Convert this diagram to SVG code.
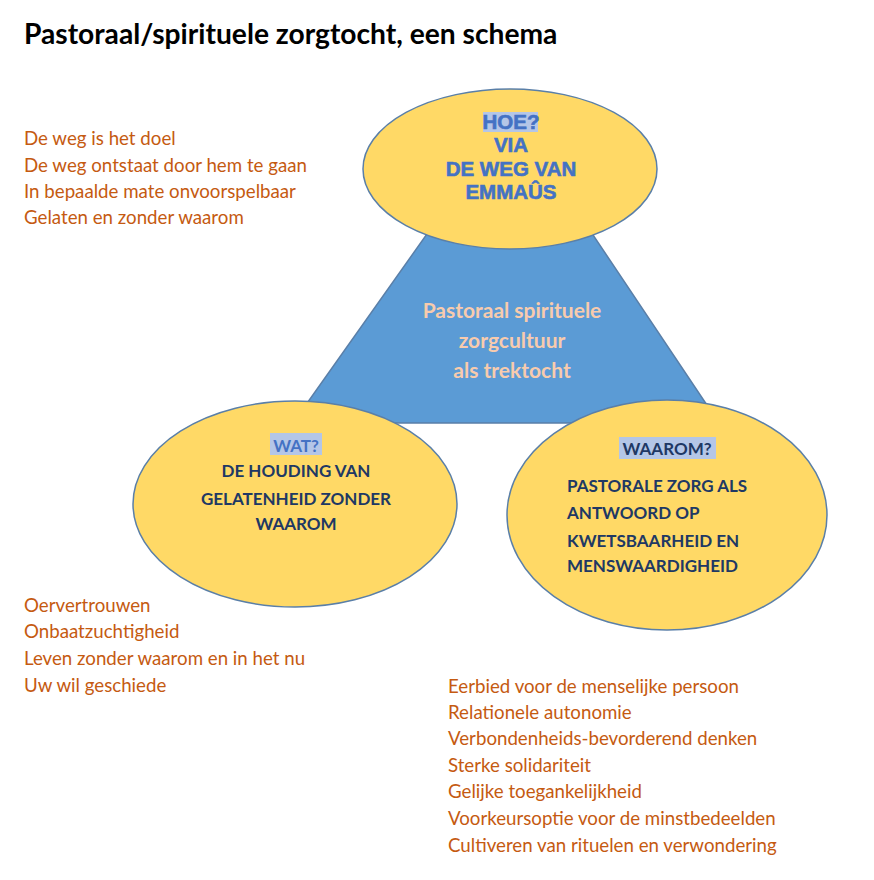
<svg xmlns="http://www.w3.org/2000/svg" width="874" height="880" viewBox="0 0 874 880">
<style>
.sh{stroke:#5A7FA8;stroke-width:1.5}
.ell{fill:#FFD966}
.orange{font-family:Lato,"Open Sans",sans-serif;font-size:18.7px;fill:#C55A11}
.hl{fill:#B4C6E7}
.top{font-family:"Liberation Sans",Arial,sans-serif;font-weight:bold;font-size:20.5px;fill:#4472C4;stroke:#4472C4;stroke-width:0.6;text-anchor:middle}
.nav{font-family:Lato,"Open Sans",sans-serif;font-weight:bold;font-size:17px;fill:#203864}
</style>
<rect width="874" height="880" fill="#FFFFFF"/>
<text x="24" y="44" font-family="Lato,'Open Sans',sans-serif" font-weight="bold" font-size="28.2" fill="#000000">Pastoraal/spirituele zorgtocht, een schema</text>

<g id="triangle">
<polygon class="sh" points="512,114 719,423 293,423" fill="#5B9BD5"/>
<g font-family="Lato,'Open Sans',sans-serif" font-weight="bold" font-size="21" fill="#F8CBAD" text-anchor="middle">
<text x="512" y="318">Pastoraal spirituele</text>
<text x="512" y="348">zorgcultuur</text>
<text x="512" y="378">als trektocht</text>
</g>
</g>

<g id="hoe">
<ellipse class="ell sh" cx="510" cy="169" rx="147" ry="80"/>
<rect class="hl" x="483" y="112" width="55" height="20"/>
<text class="top" x="511" y="129">HOE?</text>
<text class="top" x="511" y="152">VIA</text>
<text class="top" x="511" y="176">DE WEG VAN</text>
<text class="top" x="511" y="199">EMMAÛS</text>
</g>

<g id="wat">
<ellipse class="ell sh" cx="295" cy="504" rx="162" ry="103"/>
<rect class="hl" x="270" y="433" width="52" height="22"/>
<text x="296" y="452" class="nav" style="fill:#4472C4" text-anchor="middle">WAT?</text>
<text x="296" y="477" class="nav" text-anchor="middle">DE HOUDING VAN</text>
<text x="296" y="505" class="nav" text-anchor="middle">GELATENHEID ZONDER</text>
<text x="296" y="530" class="nav" text-anchor="middle">WAAROM</text>
</g>

<g id="waarom">
<ellipse class="ell sh" cx="667" cy="515" rx="160" ry="115"/>
<rect class="hl" x="619" y="437" width="97" height="22"/>
<text x="667" y="455" class="nav" text-anchor="middle">WAAROM?</text>
<text x="567" y="492" class="nav">PASTORALE ZORG ALS</text>
<text x="567" y="519" class="nav">ANTWOORD OP</text>
<text x="567" y="547" class="nav">KWETSBAARHEID EN</text>
<text x="567" y="572" class="nav">MENSWAARDIGHEID</text>
</g>

<g id="list-hoe" class="orange">
<text x="24" y="145">De weg is het doel</text>
<text x="24" y="172">De weg ontstaat door hem te gaan</text>
<text x="24" y="198">In bepaalde mate onvoorspelbaar</text>
<text x="24" y="224">Gelaten en zonder waarom</text>
</g>

<g id="list-wat" class="orange">
<text x="24" y="612">Oervertrouwen</text>
<text x="24" y="638">Onbaatzuchtigheid</text>
<text x="24" y="665">Leven zonder waarom en in het nu</text>
<text x="24" y="692">Uw wil geschiede</text>
</g>

<g id="list-waarom" class="orange">
<text x="448" y="693">Eerbied voor de menselijke persoon</text>
<text x="448" y="719">Relationele autonomie</text>
<text x="448" y="745">Verbondenheids-bevorderend denken</text>
<text x="448" y="772">Sterke solidariteit</text>
<text x="448" y="798">Gelijke toegankelijkheid</text>
<text x="448" y="825">Voorkeursoptie voor de minstbedeelden</text>
<text x="448" y="852">Cultiveren van rituelen en verwondering</text>
</g>

<g id="connectors"/>
</svg>
